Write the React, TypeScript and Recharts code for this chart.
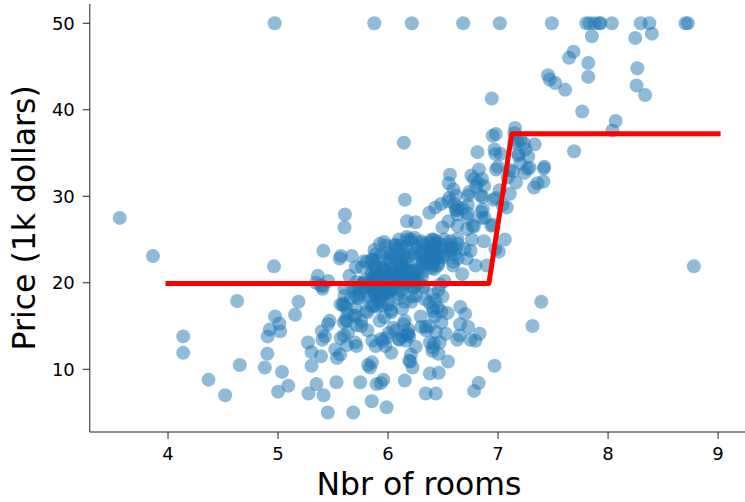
import React from 'react';
import { ScatterChart, Scatter, XAxis, YAxis } from 'recharts';

// average number of rooms per dwelling (RM)
const rooms = [
  6.575, 6.421, 7.185, 6.998, 7.147, 6.43, 6.012, 6.172, 5.631, 6.004, 6.377, 6.009, 5.889, 5.949, 6.096, 5.834,
  5.935, 5.99, 5.456, 5.727, 5.57, 5.965, 6.142, 5.813, 5.924, 5.599, 5.813, 6.047, 6.495, 6.674, 5.713, 6.072,
  5.95, 5.701, 6.096, 5.933, 5.841, 5.85, 5.966, 6.595, 7.024, 6.77, 6.169, 6.211, 6.069, 5.682, 5.786, 6.03,
  5.399, 5.602, 5.963, 6.115, 6.511, 5.998, 5.888, 7.249, 6.383, 6.816, 6.145, 5.927, 5.741, 5.966, 6.456, 6.762,
  7.104, 6.29, 5.787, 5.878, 5.594, 5.885, 6.417, 5.961, 6.065, 6.245, 6.273, 6.286, 6.279, 6.14, 6.232, 5.874,
  6.727, 6.619, 6.302, 6.167, 6.389, 6.63, 6.015, 6.121, 7.007, 7.079, 6.417, 6.405, 6.442, 6.211, 6.249, 6.625,
  6.163, 8.069, 7.82, 7.416, 6.727, 6.781, 6.405, 6.137, 6.167, 5.851, 5.836, 6.127, 6.474, 6.229, 6.195, 6.715,
  5.913, 6.092, 6.254, 5.928, 6.176, 6.021, 5.872, 5.731, 5.87, 6.004, 5.961, 5.856, 5.879, 5.986, 5.613, 5.693,
  6.431, 5.637, 6.458, 6.326, 6.372, 5.822, 5.757, 6.335, 5.942, 6.454, 5.857, 6.151, 6.174, 5.019, 5.403, 5.468,
  4.903, 6.13, 5.628, 4.926, 5.186, 5.597, 6.122, 5.404, 5.012, 5.709, 6.129, 6.152, 5.272, 6.943, 6.066, 6.51,
  6.25, 7.489, 7.802, 8.375, 5.854, 6.101, 7.929, 5.877, 6.319, 6.402, 5.875, 5.88, 5.572, 6.416, 5.859, 6.546,
  6.02, 6.315, 6.86, 6.98, 7.765, 6.144, 7.155, 6.563, 5.604, 6.153, 7.831, 6.782, 6.556, 7.185, 6.951, 6.739,
  7.178, 6.8, 6.604, 7.875, 7.287, 7.107, 7.274, 6.975, 7.135, 6.162, 7.61, 7.853, 8.034, 5.891, 6.326, 5.783,
  6.064, 5.344, 5.96, 5.404, 5.807, 6.375, 5.412, 6.182, 5.888, 6.642, 5.951, 6.373, 6.951, 6.164, 6.879, 6.618,
  8.266, 8.725, 8.04, 7.163, 7.686, 6.552, 5.981, 7.412, 8.337, 8.247, 6.726, 6.086, 6.631, 7.358, 6.481, 6.606,
  6.897, 6.095, 6.358, 6.393, 5.593, 5.605, 6.108, 6.226, 6.433, 6.718, 6.487, 6.438, 6.957, 8.259, 6.108, 5.876,
  7.454, 8.704, 7.333, 6.842, 7.203, 7.52, 8.398, 7.327, 7.206, 5.56, 7.014, 8.297, 7.47, 5.92, 5.856, 6.24,
  6.538, 7.691, 6.758, 6.854, 7.267, 6.826, 6.482, 6.812, 7.82, 6.968, 7.645, 7.923, 7.088, 6.453, 6.23, 6.209,
  6.315, 6.565, 6.861, 7.148, 6.63, 6.127, 6.009, 6.678, 6.549, 5.79, 6.345, 7.041, 6.871, 6.59, 6.495, 6.982,
  7.236, 6.616, 7.42, 6.849, 6.635, 5.972, 4.973, 6.122, 6.023, 6.266, 6.567, 5.705, 5.914, 5.782, 6.382, 6.113,
  6.426, 6.376, 6.041, 5.708, 6.415, 6.431, 6.312, 6.083, 5.868, 6.333, 6.144, 5.706, 6.031, 6.316, 6.31, 6.037,
  5.869, 5.895, 6.059, 5.985, 5.968, 7.241, 6.54, 6.696, 6.874, 6.014, 5.898, 6.516, 6.635, 6.939, 6.49, 6.579,
  5.884, 6.728, 5.663, 5.936, 6.212, 6.395, 6.127, 6.112, 6.398, 6.251, 5.362, 5.803, 8.78, 3.561, 4.963, 3.863,
  4.97, 6.683, 7.016, 6.216, 5.875, 4.906, 4.138, 7.313, 6.649, 6.794, 6.38, 6.223, 6.968, 6.545, 5.536, 5.52,
  4.368, 5.277, 4.652, 5.0, 4.88, 5.39, 5.713, 6.051, 5.036, 6.193, 5.887, 6.471, 6.405, 5.747, 5.453, 5.852,
  5.987, 6.343, 6.404, 5.349, 5.531, 5.683, 4.138, 5.608, 5.617, 6.852, 5.757, 6.657, 4.628, 5.155, 4.519, 6.434,
  6.782, 5.304, 5.957, 6.824, 6.411, 6.006, 5.648, 6.103, 5.565, 5.896, 5.837, 6.202, 6.193, 6.38, 6.348, 6.833,
  6.425, 6.436, 6.208, 6.629, 6.461, 6.152, 5.935, 5.627, 5.818, 6.406, 6.219, 6.485, 5.854, 6.459, 6.341, 6.251,
  6.185, 6.417, 6.749, 6.655, 6.297, 7.393, 6.728, 6.525, 5.976, 5.936, 6.301, 6.081, 6.701, 6.376, 6.317, 6.513,
  6.209, 5.759, 5.952, 6.003, 5.926, 5.713, 6.167, 6.229, 6.437, 6.98, 5.427, 6.162, 6.484, 5.304, 6.185, 6.229,
  6.242, 6.75, 7.061, 5.762, 5.871, 6.312, 6.114, 5.905, 5.454, 5.414, 5.093, 5.983, 5.983, 5.707, 5.926, 5.67,
  5.39, 5.794, 6.019, 5.569, 6.027, 6.593, 6.12, 6.976, 6.794, 6.03,
];

// median value in 1k dollars (MEDV)
const prices = [
  24.0, 21.6, 34.7, 33.4, 36.2, 28.7, 22.9, 27.1, 16.5, 18.9, 15.0, 18.9, 21.7, 20.4, 18.2, 19.9,
  23.1, 17.5, 20.2, 18.2, 13.6, 19.6, 15.2, 14.5, 15.6, 13.9, 16.6, 14.8, 18.4, 21.0, 12.7, 14.5,
  13.2, 13.1, 13.5, 18.9, 20.0, 21.0, 24.7, 30.8, 34.9, 26.6, 25.3, 24.7, 21.2, 19.3, 20.0, 16.6,
  14.4, 19.4, 19.7, 20.5, 25.0, 23.4, 18.9, 35.4, 24.7, 31.6, 23.3, 19.6, 18.7, 16.0, 22.2, 25.0,
  33.0, 23.5, 19.4, 22.0, 17.4, 20.9, 24.2, 21.7, 22.8, 23.4, 24.1, 21.4, 20.0, 20.8, 21.2, 20.3,
  28.0, 23.9, 24.8, 22.9, 23.9, 26.6, 22.5, 22.2, 23.6, 28.7, 22.6, 22.0, 22.9, 25.0, 20.6, 28.4,
  21.4, 38.7, 43.8, 33.2, 27.5, 26.5, 18.6, 19.3, 20.1, 19.5, 19.5, 20.4, 19.8, 19.4, 21.7, 22.8,
  18.8, 18.7, 18.5, 18.3, 21.2, 19.2, 20.4, 19.3, 22.0, 20.3, 20.5, 17.3, 18.8, 21.4, 15.7, 16.2,
  18.0, 14.3, 19.2, 19.6, 23.0, 18.4, 15.6, 18.1, 17.4, 17.1, 13.3, 17.8, 14.0, 14.4, 13.4, 15.6,
  11.8, 13.8, 15.6, 14.6, 17.8, 15.4, 21.5, 19.6, 15.3, 19.4, 17.0, 15.6, 13.1, 41.3, 24.3, 23.3,
  27.0, 50.0, 50.0, 50.0, 22.7, 25.0, 50.0, 23.8, 23.8, 22.3, 17.4, 19.1, 23.1, 23.6, 22.6, 29.4,
  23.2, 24.6, 29.9, 37.2, 39.8, 36.2, 37.9, 32.5, 26.4, 29.6, 50.0, 32.0, 29.8, 34.9, 37.0, 30.5,
  36.4, 31.1, 29.1, 50.0, 33.3, 30.3, 34.6, 34.9, 32.9, 24.1, 42.3, 48.5, 50.0, 22.6, 24.4, 22.5,
  24.4, 20.0, 21.7, 19.3, 22.4, 28.1, 23.7, 25.0, 23.3, 28.7, 21.5, 23.0, 26.7, 21.7, 27.5, 30.1,
  44.8, 50.0, 37.6, 31.6, 46.7, 31.5, 24.3, 31.7, 41.7, 48.3, 29.0, 24.0, 25.1, 31.5, 23.7, 23.3,
  22.0, 20.1, 22.2, 23.7, 17.6, 18.5, 24.3, 20.5, 24.5, 26.2, 24.4, 24.8, 29.6, 42.8, 21.9, 20.9,
  44.0, 50.0, 36.0, 30.1, 33.8, 43.1, 48.8, 31.0, 36.5, 22.8, 30.7, 50.0, 43.5, 20.7, 21.1, 25.2,
  24.4, 35.2, 32.4, 32.0, 33.2, 33.1, 29.1, 35.1, 45.4, 35.4, 46.0, 50.0, 32.2, 22.0, 20.1, 23.2,
  22.3, 24.8, 28.5, 37.3, 27.9, 23.9, 21.7, 28.6, 27.1, 20.3, 22.5, 29.0, 24.8, 22.0, 26.4, 33.1,
  36.1, 28.4, 33.4, 28.2, 22.8, 20.3, 16.1, 22.1, 19.4, 21.6, 23.8, 16.2, 17.8, 19.8, 23.1, 21.0,
  23.8, 23.1, 20.4, 18.5, 25.0, 24.6, 23.0, 22.2, 19.3, 22.6, 19.8, 17.1, 19.4, 22.2, 20.7, 21.1,
  19.5, 18.5, 20.6, 19.0, 18.7, 32.7, 16.5, 23.9, 31.2, 17.5, 17.2, 23.1, 24.5, 26.6, 22.9, 24.1,
  18.6, 30.1, 18.2, 20.6, 17.8, 21.7, 22.7, 22.6, 25.0, 19.9, 20.8, 16.8, 21.9, 27.5, 21.9, 23.1,
  50.0, 50.0, 50.0, 50.0, 50.0, 13.8, 13.8, 15.0, 13.9, 13.3, 13.1, 10.2, 10.4, 10.9, 11.3, 12.3,
  8.8, 7.2, 10.5, 7.4, 10.2, 11.5, 15.1, 23.2, 9.7, 13.8, 12.7, 13.1, 12.5, 8.5, 5.0, 6.3,
  5.6, 7.2, 12.1, 8.3, 8.5, 5.0, 11.9, 27.9, 17.2, 27.5, 15.0, 17.2, 17.9, 16.3, 7.0, 7.2,
  7.5, 10.4, 8.8, 8.4, 16.7, 14.2, 20.8, 13.4, 11.7, 8.3, 10.2, 10.9, 11.0, 9.5, 14.5, 14.1,
  16.1, 14.3, 11.7, 13.4, 9.6, 8.7, 8.4, 12.8, 10.5, 17.1, 18.4, 15.4, 10.8, 11.8, 14.9, 12.6,
  14.1, 13.0, 13.4, 15.2, 16.1, 17.8, 14.9, 14.1, 12.7, 13.5, 14.9, 20.0, 16.4, 17.7, 19.5, 20.2,
  21.4, 19.9, 19.0, 19.1, 19.1, 20.1, 19.9, 19.6, 23.2, 29.8, 13.8, 13.3, 16.7, 12.0, 14.6, 21.4,
  23.0, 23.7, 25.0, 21.8, 20.6, 21.2, 19.1, 20.6, 15.2, 7.0, 8.1, 13.6, 20.1, 21.8, 24.5, 23.1,
  19.7, 18.3, 21.2, 17.5, 16.8, 22.4, 20.6, 23.9, 22.0, 11.9,
];

// tree prediction
const predRooms = [4, 6.917, 7.125, 9];
const predPrice = [19.93, 19.93, 37.24, 37.24];

const xTicks = [4, 5, 6, 7, 8, 9];
const yTicks = [10, 20, 30, 40, 50];

const points = rooms.map((r, i) => ({ x: r, y: prices[i] }));
const predLine = predRooms.map((r, i) => ({ x: r, y: predPrice[i] }));

const dot = (props: any) => {
  const { cx, cy } = props;
  if (cx == null || cy == null) return <g />;
  return <circle cx={cx} cy={cy} r={7} fill="#1f77b4" fillOpacity={0.5} stroke="none" />;
};

const noDot = () => <g />;

const font = 'DejaVu Sans, sans-serif';

export default function App() {
  return (
    <div style={{ position: 'absolute', left: 0, top: 0, width: 745, height: 502, overflow: 'hidden', background: '#fff' }}>
      <ScatterChart width={748} height={502} margin={{ top: 3.8, right: 0, bottom: 0, left: 0 }}>
        <XAxis
          type="number"
          dataKey="x"
          domain={[3.289, 9.272]}
          ticks={xTicks}
          allowDataOverflow
          height={70}
          tickSize={7}
          tickMargin={8}
          stroke="#222"
          tick={{ fill: '#000', fontSize: 18, fontFamily: font }}
          tickLine={{ stroke: '#222' }}
          label={{ value: 'Nbr of rooms', position: 'insideBottom', offset: 7, fill: '#000', fontSize: 31.5, fontFamily: font }}
        />
        <YAxis
          type="number"
          dataKey="y"
          domain={[2.75, 52.25]}
          ticks={yTicks}
          allowDataOverflow
          width={89.8}
          tickSize={7}
          tickMargin={8}
          stroke="#222"
          tick={{ fill: '#000', fontSize: 18, fontFamily: font }}
          tickLine={{ stroke: '#222' }}
          label={{
            value: 'Price (1k dollars)',
            angle: -90,
            position: 'insideLeft',
            offset: 24,
            fill: '#000',
            fontSize: 31.5,
            fontFamily: font,
            style: { textAnchor: 'middle' },
          }}
        />
        <Scatter data={points} shape={dot} isAnimationActive={false} />
        <Scatter
          data={predLine}
          shape={noDot}
          line={{ stroke: '#ff0000', strokeWidth: 5, strokeLinecap: 'square', strokeLinejoin: 'round' }}
          isAnimationActive={false}
        />
      </ScatterChart>
    </div>
  );
}
